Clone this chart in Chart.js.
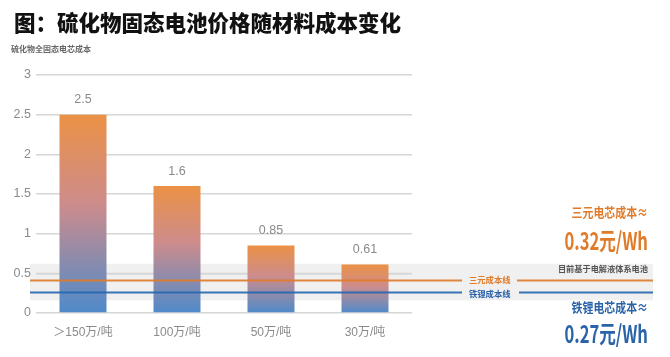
<!DOCTYPE html>
<html><head><meta charset="utf-8">
<script src="https://cdn.jsdelivr.net/npm/chart.js@4.4.1/dist/chart.umd.min.js"></script>
<style>
html,body{margin:0;padding:0;background:#fff;}
#wrap{position:relative;width:670px;height:357px;overflow:hidden;font-family:'Noto Sans CJK SC','Noto Sans',sans-serif;}
canvas{position:absolute;left:0;top:0;}
.t{position:absolute;white-space:nowrap;line-height:1;}
#title{left:14px;top:11px;font-size:21.5px;font-weight:900;color:#111;}
#sub{left:11px;top:45px;font-size:8px;font-weight:700;color:#666;}
.r{right:22px;text-align:right;transform-origin:right center;}
</style></head>
<body><div id="wrap">
<canvas id="c" width="670" height="357"></canvas>
<div class="t" id="title">图：硫化物固态电池价格随材料成本变化</div>
<div class="t" id="sub">硫化物全固态电芯成本</div>
<div class="t r" style="top:205px;font-size:13px;font-weight:700;color:#E07B2A;transform:scaleX(0.84);">三元电芯成本≈</div>
<div class="t r" style="top:228px;font-size:24px;font-weight:700;color:#E07B2A;transform:scaleX(0.69);">0.32元/Wh</div>
<div class="t r" style="top:264px;font-size:8.2px;font-weight:700;color:#555;">目前基于电解液体系电池</div>
<div class="t r" style="top:300px;font-size:13px;font-weight:700;color:#2A63A8;transform:scaleX(0.84);">铁锂电芯成本≈</div>
<div class="t r" style="top:321px;font-size:24px;font-weight:700;color:#2A63A8;transform:scaleX(0.69);">0.27元/Wh</div>
<div class="t" style="left:469px;top:275px;font-size:8.3px;font-weight:700;color:#E07B2A;">三元成本线</div>
<div class="t" style="left:469px;top:289px;font-size:8.3px;font-weight:700;color:#2A63A8;">铁锂成本线</div>
</div>
<script>
const categories = ['＞150万/吨', '100万/吨', '50万/吨', '30万/吨'];
const values = [2.5, 1.6, 0.85, 0.61];
const yTicks = [0, 0.5, 1, 1.5, 2, 2.5, 3];
const refLines = [0.42, 0.26];          // 三元成本线, 铁锂成本线 (as drawn)
const refColors = ['#E07B2A', '#2566AE'];
const bandRange = [0.16, 0.62];          // grey band behind the lines

const narrow = "'Liberation Sans Narrow','Liberation Sans','Noto Sans CJK SC',sans-serif";

const decor = {
  id: 'decor',
  beforeDatasetsDraw(chart) {
    const {ctx} = chart; const y = chart.scales.y;
    const t = y.getPixelForValue(bandRange[1]), b = y.getPixelForValue(bandRange[0]);
    ctx.save();
    ctx.fillStyle = 'rgba(200,200,200,0.28)';
    ctx.fillRect(30, t, 623, b - t);
    ctx.strokeStyle = '#D6D6D6'; ctx.lineWidth = 1.5;
    const g = Math.round(y.getPixelForValue(0.5)) + 0.5;
    ctx.beginPath(); ctx.moveTo(chart.chartArea.left, g); ctx.lineTo(chart.chartArea.right - 2, g); ctx.stroke();
    ctx.restore();
  },
  afterDatasetsDraw(chart) {
    const {ctx} = chart; const y = chart.scales.y;
    ctx.save();
    refLines.forEach((v, i) => {
      const py = Math.round(y.getPixelForValue(v)) + 0.5;
      ctx.strokeStyle = refColors[i]; ctx.globalAlpha = 0.9; ctx.lineWidth = 2;
      ctx.beginPath(); ctx.moveTo(30, py); ctx.lineTo(462, py);
      ctx.moveTo(i === 0 ? 517 : 519, py); ctx.lineTo(653, py); ctx.stroke();
    });
    ctx.globalAlpha = 1;
    const meta = chart.getDatasetMeta(0);
    ctx.fillStyle = '#8a8a8a'; ctx.font = '12.5px ' + narrow;
    ctx.textAlign = 'center'; ctx.textBaseline = 'middle';
    meta.data.forEach((el, i) => {
      ctx.fillText(String(values[i]), el.x, el.y - 15);
    });
    ctx.restore();
  }
};

new Chart(document.getElementById('c'), {
  type: 'bar',
  data: {
    labels: categories,
    datasets: [{
      data: values,
      barPercentage: 0.5,
      categoryPercentage: 1.0,
      borderWidth: 0,
      backgroundColor: (c) => {
        const ch = c.chart;
        if (!ch.chartArea || c.type !== 'data' || !c.parsed) return '#C98C92';
        const y = ch.scales.y;
        const top = y.getPixelForValue(c.parsed.y), bot = y.getPixelForValue(0);
        const g = ch.ctx.createLinearGradient(0, top, 0, bot);
        g.addColorStop(0, '#EB9145');
        g.addColorStop(0.45, '#CD8C8C');
        g.addColorStop(1, '#4F8ACA');
        return g;
      }
    }]
  },
  options: {
    responsive: false,
    devicePixelRatio: 1,
    animation: false,
    layout: {padding: {top: 75, right: 258, left: 0, bottom: 0}},
    plugins: {legend: {display: false}, tooltip: {enabled: false}},
    scales: {
      x: {
        grid: {display: false, drawTicks: false},
        border: {display: false},
        ticks: {color: '#8a8a8a', padding: 12, font: {family: narrow, size: 12}, maxRotation: 0},
        afterFit(s) { s.height = 44; }
      },
      y: {
        min: 0, max: 3,
        afterBuildTicks(s) { s.ticks = yTicks.map(v => ({value: v})); },
        grid: {color: '#D6D6D6', lineWidth: 1.5, drawTicks: false},
        border: {display: false},
        ticks: {color: '#8a8a8a', padding: 5, font: {family: narrow, size: 12.5}, callback: v => String(v)},
        afterFit(s) { s.width = 36; }
      }
    }
  },
  plugins: [decor]
});
</script>
</body></html>
